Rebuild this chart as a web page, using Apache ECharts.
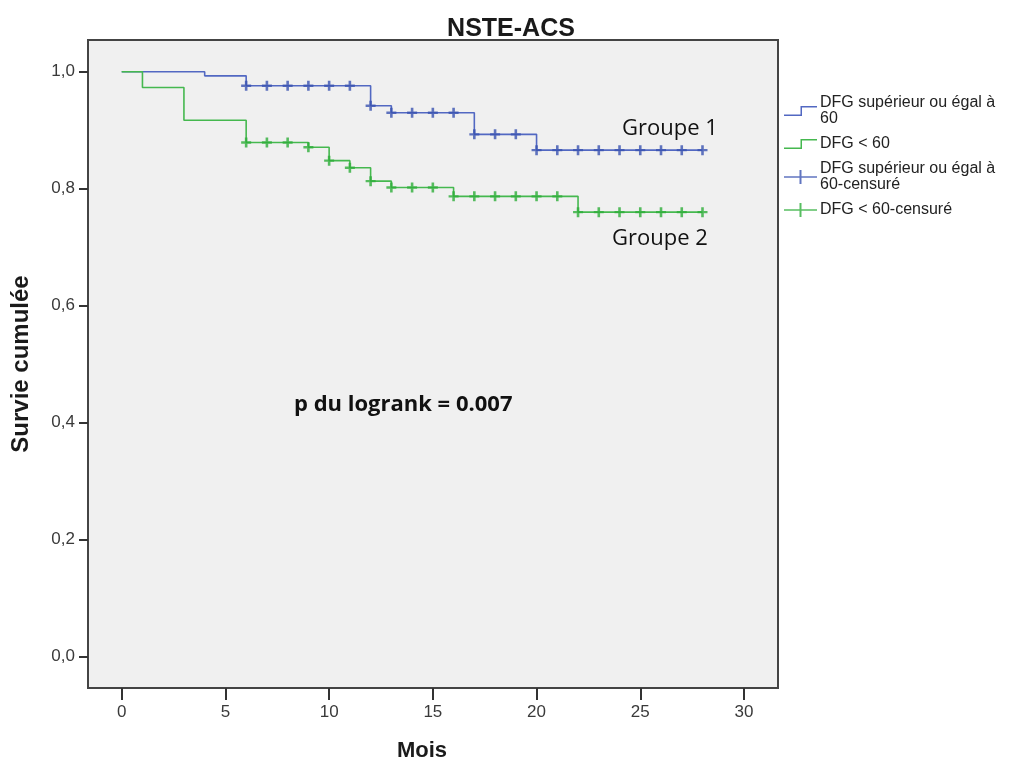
<!DOCTYPE html>
<html>
<head>
<meta charset="utf-8">
<title>NSTE-ACS</title>
<script src="https://cdn.jsdelivr.net/npm/echarts@6/dist/echarts.min.js"></script>
<style>
  html, body { margin: 0; padding: 0; background: #ffffff; }
  #chart { width: 1022px; height: 767px; }
</style>
</head>
<body>
<div id="chart"></div>
<script>
// Kaplan-Meier curves (event times in months and survival after each step)
const blueTimes = [0, 4, 6, 12, 13, 17, 20, 28];
const blueSurv  = [1.0, 0.993, 0.976, 0.942, 0.930, 0.893, 0.866, 0.866];
const greenTimes = [0, 1, 3, 6, 9, 10, 11, 12, 13, 16, 22, 28];
const greenSurv  = [1.0, 0.973, 0.917, 0.879, 0.871, 0.848, 0.836, 0.813, 0.802, 0.787, 0.760, 0.760];

// Censoring times (months)
const blueCensor  = [6, 7, 8, 9, 10, 11, 12, 13, 14, 15, 16, 17, 18, 19, 20, 21, 22, 23, 24, 25, 26, 27, 28];
const greenCensor = [6, 7, 8, 9, 10, 11, 12, 13, 14, 15, 16, 17, 18, 19, 20, 21, 22, 23, 24, 25, 26, 27, 28];

// Tick labels
const xTicks = [0, 5, 10, 15, 20, 25, 30];
const yTicks = [0, 0.2, 0.4, 0.6, 0.8, 1.0];

// Series names
const nameBlue = 'DFG supérieur ou égal à\n60';
const nameGreen = 'DFG < 60';
const nameBlueC = 'DFG supérieur ou égal à\n60-censuré';
const nameGreenC = 'DFG < 60-censuré';

const BLUE_LINE = '#5268c2';
const BLUE_MARK = '#3a52b0';
const GREEN_LINE = '#45b84f';
const GREEN_MARK = '#2eae3a';

// survival value of a step curve at time t
function survAt(times, surv, t) {
  let v = surv[0];
  for (let i = 0; i < times.length; i++) {
    if (times[i] <= t) v = surv[i];
  }
  return v;
}

const bluePairs = blueTimes.map((t, i) => [t, blueSurv[i]]);
const greenPairs = greenTimes.map((t, i) => [t, greenSurv[i]]);
const blueCensorPairs = blueCensor.map(t => [t, survAt(blueTimes, blueSurv, t)]);
const greenCensorPairs = greenCensor.map(t => [t, survAt(greenTimes, greenSurv, t)]);

// plus-shaped censor mark and legend icons
const plusPath = 'path://M3.7,0H6.3V3.8H10V6.2H6.3V10H3.7V6.2H0V3.8H3.7Z';
const stepIcon = 'path://M0,8.5H16.5V0H33V1.5H18V10H0Z';
const censorIcon = 'path://M0,6.25H15.5V0H17.5V6.25H33V7.75H17.5V14H15.5V7.75H0Z';

const chart = echarts.init(document.getElementById('chart'), null, { renderer: 'canvas' });

const axisFont = 'Liberation Sans, Arial, sans-serif';
const noteFont = 'Open Sans, sans-serif';

chart.setOption({
  animation: false,
  backgroundColor: '#ffffff',
  title: {
    text: 'NSTE-ACS',
    left: 'center',
    top: 12,
    textStyle: { fontFamily: axisFont, fontWeight: 'bold', fontSize: 25, color: '#1a1a1a' }
  },
  grid: {
    left: 88, top: 40, width: 690, height: 648,
    outerBoundsMode: 'none',
    containLabel: false,
    show: true,
    backgroundColor: '#f0f0f0',
    borderColor: '#444444',
    borderWidth: 2
  },
  legend: {
    orient: 'vertical',
    left: 779,
    top: 90,
    itemWidth: 33,
    itemHeight: 14,
    itemGap: 9,
    selectedMode: false,
    textStyle: { fontFamily: axisFont, fontSize: 16, lineHeight: 16, color: '#222222', padding: [0, 0, 0, -2] },
    data: [
      { name: nameBlue, icon: stepIcon },
      { name: nameGreen, icon: stepIcon },
      { name: nameBlueC, icon: censorIcon },
      { name: nameGreenC, icon: censorIcon }
    ]
  },
  xAxis: {
    type: 'value',
    min: -1.625,
    max: 31.64,
    name: 'Mois',
    nameLocation: 'middle',
    nameGap: 52,
    nameTextStyle: { fontFamily: axisFont, fontWeight: 'bold', fontSize: 22, color: '#1a1a1a', padding: [0, 22, 0, 0] },
    axisLine: { show: false, onZero: false },
    splitLine: { show: false },
    axisTick: {
      show: true,
      customValues: xTicks,
      length: 12,
      lineStyle: { color: '#333333', width: 2 }
    },
    axisLabel: {
      customValues: xTicks,
      margin: 16,
      fontFamily: axisFont,
      fontSize: 17,
      color: '#3a3a3a'
    }
  },
  yAxis: {
    type: 'value',
    min: -0.0536,
    max: 1.0543,
    name: 'Survie cumulée',
    nameLocation: 'middle',
    nameGap: 55,
    nameTextStyle: { fontFamily: axisFont, fontWeight: 'bold', fontSize: 24, color: '#1a1a1a' },
    axisLine: { show: false, onZero: false },
    splitLine: { show: false },
    axisTick: {
      show: true,
      customValues: yTicks,
      length: 9,
      lineStyle: { color: '#333333', width: 2 }
    },
    axisLabel: {
      customValues: yTicks,
      margin: 13,
      fontFamily: axisFont,
      fontSize: 17,
      color: '#3a3a3a',
      formatter: v => v.toFixed(1).replace('.', ',')
    }
  },
  series: [
    {
      name: nameBlue,
      type: 'line',
      step: 'end',
      data: bluePairs,
      symbol: 'none',
      color: BLUE_LINE,
      lineStyle: { color: BLUE_LINE, width: 1.6 },
      z: 2
    },
    {
      name: nameGreen,
      type: 'line',
      step: 'end',
      data: greenPairs,
      symbol: 'none',
      color: GREEN_LINE,
      lineStyle: { color: GREEN_LINE, width: 1.6 },
      z: 3
    },
    {
      name: nameBlueC,
      type: 'scatter',
      data: blueCensorPairs,
      symbol: plusPath,
      symbolSize: 10,
      itemStyle: { color: BLUE_MARK },
      z: 4
    },
    {
      name: nameGreenC,
      type: 'scatter',
      data: greenCensorPairs,
      symbol: plusPath,
      symbolSize: 10,
      itemStyle: { color: GREEN_MARK },
      z: 5
    }
  ],
  graphic: [
    {
      type: 'text',
      left: 622, top: 118,
      style: { text: 'Groupe 1', fontFamily: noteFont, fontSize: 22, fill: '#111111' }
    },
    {
      type: 'text',
      left: 612, top: 228,
      style: { text: 'Groupe 2', fontFamily: noteFont, fontSize: 22, fill: '#111111' }
    },
    {
      type: 'text',
      left: 294, top: 394,
      style: { text: 'p du logrank = 0.007', fontFamily: noteFont, fontWeight: 'bold', fontSize: 22, fill: '#111111' }
    }
  ]
});
</script>
</body>
</html>
